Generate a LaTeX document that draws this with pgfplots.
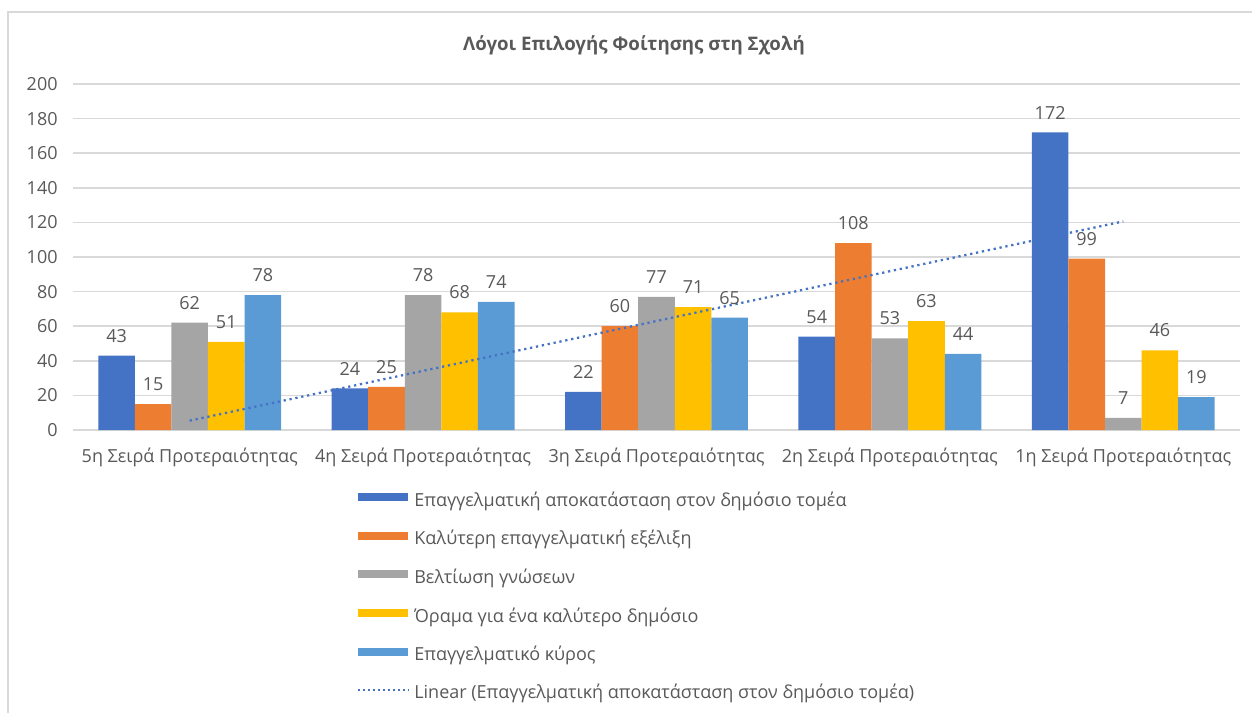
\documentclass[border=0pt]{standalone}
\usepackage{pgfplots}
\pgfplotsset{compat=1.18}
\usepackage{fontspec}
\setmainfont{Open Sans}
\definecolor{c1}{HTML}{4472C4}
\definecolor{c2}{HTML}{ED7D31}
\definecolor{c3}{HTML}{A5A5A5}
\definecolor{c4}{HTML}{FFC000}
\definecolor{c5}{HTML}{5B9BD5}
\definecolor{txt}{HTML}{595959}
\definecolor{gridc}{HTML}{D9D9D9}
\newcommand{\lbl}{\fontsize{13.5}{15.5}\selectfont}
\begin{document}
\begin{tikzpicture}
\useasboundingbox (0,0) rectangle (1252*0.75pt,-713*0.75pt);
\draw[gridc, line width=1.1pt] (8*0.75pt,-12*0.75pt) rectangle (1262*0.75pt,-730*0.75pt);
\node[font=\bfseries\fontsize{14}{16}\selectfont, text=txt] at (634*0.75pt,-45*0.75pt)
  {Λόγοι Επιλογής Φοίτησης στη Σχολή};
\begin{axis}[
  at={(73*0.75pt,-430*0.75pt)}, anchor=south west,
  scale only axis, width=1167*0.75pt, height=346*0.75pt,
  ybar=0pt, bar width=0.1567,
  xmin=-0.5, xmax=4.5, ymin=0, ymax=200, ytick distance=20,
  xtick={0,1,2,3,4},
  xticklabels={5η Σειρά Προτεραιότητας,4η Σειρά Προτεραιότητας,3η Σειρά Προτεραιότητας,2η Σειρά Προτεραιότητας,1η Σειρά Προτεραιότητας},
  axis line style={draw=none}, major tick length=0pt,
  ymajorgrids, grid style={gridc, line width=1.1pt},
  /pgf/number format/assume math mode=true,
  tick label style={font=\lbl, text=txt},
  yticklabel style={xshift=-8pt},
  xticklabel style={yshift=-10pt},
  nodes near coords,
  every node near coord/.append style={font=\lbl, text=txt, yshift=6.5pt},
  legend style={at={(0.2434,-0.181)}, anchor=north west, draw=none, fill=none,
    font=\lbl, text=txt, inner sep=0pt, row sep=16.5pt, column sep=3.75pt,
    nodes={inner sep=0pt, text height=9.5pt, text depth=2.5pt}},
  legend cell align=left,
  legend image code/.code={\fill[#1] (0pt,0.5pt) rectangle (37.5pt,6.5pt);},
]
\addplot[fill=c1, draw=none] coordinates {(0,43)(1,24)(2,22)(3,54)(4,172)};
\addlegendentry{Επαγγελματική αποκατάσταση στον δημόσιο τομέα}
\addplot[fill=c2, draw=none] coordinates {(0,15)(1,25)(2,60)(3,108)(4,99)};
\addlegendentry{Καλύτερη επαγγελματική εξέλιξη}
\addplot[fill=c3, draw=none] coordinates {(0,62)(1,78)(2,77)(3,53)(4,7)};
\addlegendentry{Βελτίωση γνώσεων}
\addplot[fill=c4, draw=none] coordinates {(0,51)(1,68)(2,71)(3,63)(4,46)};
\addlegendentry{Όραμα για ένα καλύτερο δημόσιο}
\addplot[fill=c5, draw=none] coordinates {(0,78)(1,74)(2,65)(3,44)(4,19)};
\addlegendentry{Επαγγελματικό κύρος}
\addplot[sharp plot, c1, line width=1.7pt, dash pattern=on 1.7pt off 2.8pt,
  nodes near coords={}, no markers,
  legend image code/.code={\draw[c1, line width=1.5pt, dash pattern=on 1.5pt off 2.2pt] (0pt,3.5pt) -- (37.5pt,3.5pt);}]
  coordinates {(0,5.4)(4,120.6)};
\addlegendentry{Linear (Επαγγελματική αποκατάσταση στον δημόσιο τομέα)}
\end{axis}
\end{tikzpicture}
\end{document}
